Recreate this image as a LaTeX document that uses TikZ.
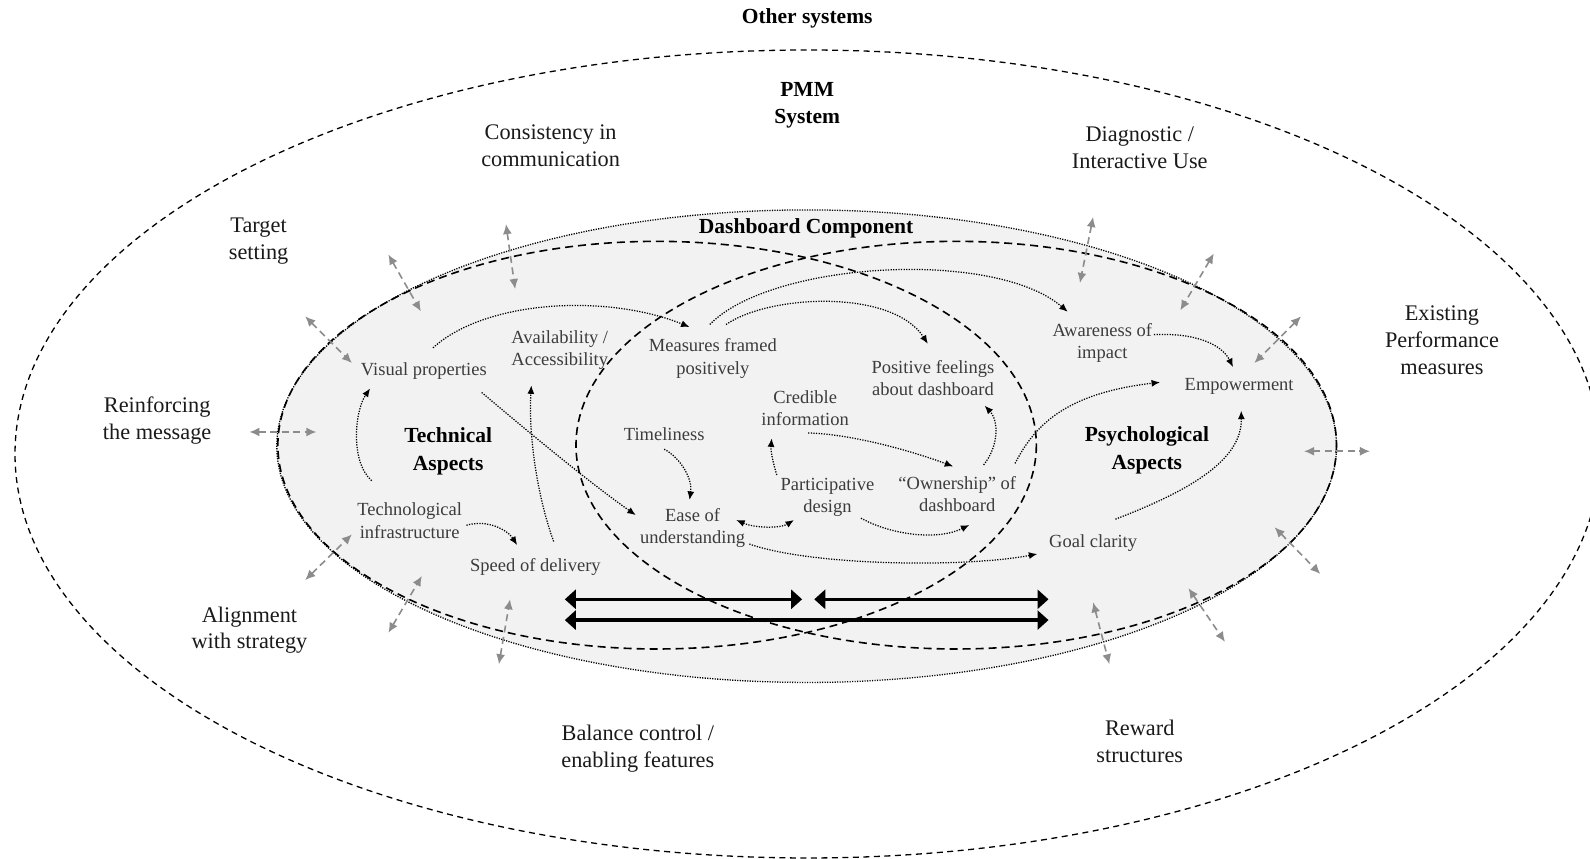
\documentclass[tikz,border=0pt]{standalone}
\usepackage{fontspec}
\setmainfont{Liberation Serif}
\usetikzlibrary{arrows.meta}
\definecolor{panel}{HTML}{F2F2F2}
\definecolor{linkgray}{HTML}{8C8C8C}
\definecolor{itemtext}{HTML}{3C3C3C}
\definecolor{outertext}{HTML}{1A1A1A}

\begin{document}
\begin{tikzpicture}[x=1.01403pt,y=-1.01403pt,
  outerlbl/.style={align=center,text=outertext,font=\fontsize{22.3}{26.8}\selectfont,inner sep=0pt},
  headlbl/.style={align=center,text=black,font=\bfseries\fontsize{21.5}{27.4}\selectfont,inner sep=0pt},
  itemlbl/.style={align=center,text=itemtext,font=\fontsize{18.5}{22.3}\selectfont,inner sep=0pt},
  flowarrow/.style={line width=1.25pt,dash pattern=on 1.25pt off 1.35pt,-{Latex[length=8.5pt,width=7pt]}},
  flowboth/.style={line width=1.25pt,dash pattern=on 1.25pt off 1.35pt,{Latex[length=8.5pt,width=7pt]}-{Latex[length=8.5pt,width=7pt]}},
  exarrow/.style={linkgray,line width=1.6pt,dash pattern=on 7pt off 4.5pt,{Latex[length=10pt,width=9pt]}-{Latex[length=10pt,width=9pt]}},
  spanarrow/.style={line width=3.4pt,{Triangle[length=11pt,width=19pt]}-{Triangle[length=11pt,width=19pt]}},
  sysline/.style={line width=1.3pt,dash pattern=on 6pt off 4.5pt},
  aspectline/.style={line width=1.6pt,dash pattern=on 8pt off 5pt},
  compline/.style={line width=1.3pt,dash pattern=on 1.2pt off 1.3pt}
]
% page and clipping frame
\fill[white] (0,0) rectangle (1568,847);
\useasboundingbox (0,0) rectangle (1568,847);
\clip (0,0) rectangle (1568,847);

% dashboard component (shaded) and the two aspect regions
\fill[panel] (795.5,440) ellipse [x radius=522.5, y radius=233];
\draw[compline] (795.5,440) ellipse [x radius=522.5, y radius=233];
\draw[aspectline] (648,439) ellipse [x radius=374, y radius=201];
\draw[aspectline] (943,439) ellipse [x radius=375, y radius=201];

% PMM system boundary
\draw[sysline] (796.4,447.7) ellipse [x radius=781.6, y radius=398.4];

% exchanges across the dashboard boundary
\draw[exarrow] (301,312) -- (347,358);
\draw[exarrow] (383,251) -- (415,307);
\draw[exarrow] (499,221) -- (508,285);
\draw[exarrow] (246,426) -- (312,426);
\draw[exarrow] (301,572) -- (347,527);
\draw[exarrow] (383,624) -- (416,568);
\draw[exarrow] (492,655) -- (503,591);
\draw[exarrow] (1078,214) -- (1065,279);
\draw[exarrow] (1197,250) -- (1164,306);
\draw[exarrow] (1283,312) -- (1237,358);
\draw[exarrow] (1286,445) -- (1351,445);
\draw[exarrow] (1257,520) -- (1302,566);
\draw[exarrow] (1172,580) -- (1208,633);
\draw[exarrow] (1078,594) -- (1094,655);

% interplay between technical and psychological aspects
\draw[spanarrow] (557,591) -- (791,591);
\draw[spanarrow] (803,591) -- (1034,591);
\draw[spanarrow] (557,611.5) -- (1034,611.5);

% system-level labels
\node[headlbl] (other) at (796,18.5) {Other systems};
\node[headlbl] (pmm) at (796,104) {PMM\\System};
\node[headlbl] (dash) at (795,225.5) {Dashboard Component};
\node[headlbl] (techasp) at (442,445) {Technical\\Aspects};
\node[headlbl] (psyasp) at (1131,444) {Psychological\\Aspects};

\node[outerlbl] (consist) at (543,143.5) {Consistency in\\communication};
\node[outerlbl] (diag) at (1124,145.5) {Diagnostic /\\Interactive Use};
\node[outerlbl] (target) at (255,238) {Target\\setting};
\node[outerlbl] (reinf) at (155,415) {Reinforcing\\the message};
\node[outerlbl] (exist) at (1422,335.5) {Existing\\Performance\\measures};
\node[outerlbl] (align) at (246,621.5) {Alignment\\with strategy};
\node[outerlbl] (balance) at (629,738) {Balance control /\\enabling features};
\node[outerlbl] (reward) at (1124,731) {Reward\\structures};

% dashboard features
\node[itemlbl] (vis) at (418,365.5) {Visual properties};
\node[itemlbl] (avail) at (552,345) {Availability /\\Accessibility};
\node[itemlbl] (mfp) at (703,353.5) {Measures framed\\positively};
\node[itemlbl] (pos) at (920,373) {Positive feelings\\about dashboard};
\node[itemlbl] (awa) at (1087,338.5) {Awareness of\\impact};
\node[itemlbl] (emp) at (1222,381.5) {Empowerment};
\node[itemlbl] (cred) at (794,402.5) {Credible\\information};
\node[itemlbl] (time) at (655,428.2) {Timeliness};
\node[itemlbl] (part) at (816,490.5) {Participative\\design};
\node[itemlbl] (own) at (944,487) {``Ownership'' of\\dashboard};
\node[itemlbl] (ease) at (683,520.5) {Ease of\\understanding};
\node[itemlbl] (tech) at (404,513.5) {Technological\\infrastructure};
\node[itemlbl] (speed) at (528,559.5) {Speed of delivery};
\node[itemlbl] (goal) at (1078,535.5) {Goal clarity};

% relationships between features
\draw[flowarrow] ([shift={(9,-22.5)}]vis.center) .. controls (480,295) and (600,290) .. ([shift={(-23,-31)}]mfp.center);
\draw[flowarrow] ([shift={(-3,-33.5)}]mfp.center) .. controls (760,258) and (980,245) .. ([shift={(-34,-31)}]awa.center);
\draw[flowarrow] ([shift={(13,-33.5)}]mfp.center) .. controls (760,290) and (880,285) .. ([shift={(-5,-34)}]pos.center);
\draw[flowarrow] ([shift={(51,-8.5)}]awa.center) .. controls (1180,328) and (1205,340) .. ([shift={(-6,-19.5)}]emp.center);
\draw[flowarrow] ([shift={(57,-30)}]own.center) .. controls (1020,420) and (1050,388) .. ([shift={(-78,-4.5)}]emp.center);
\draw[flowarrow] ([shift={(22,-23.5)}]goal.center) .. controls (1170,485) and (1225,455) .. ([shift={(2,23.5)}]emp.center);
\draw[flowarrow] ([shift={(26,-28.5)}]own.center) .. controls (985,440) and (985,415) .. ([shift={(51,27)}]pos.center);
\draw[flowarrow] ([shift={(3,24.5)}]cred.center) .. controls (840,428) and (900,445) .. ([shift={(-4,-27)}]own.center);
\draw[flowarrow] ([shift={(-50,-22.1)}]part.center) .. controls (762,455) and (760,445) .. ([shift={(-33,29.8)}]cred.center);
\draw[flowarrow] ([shift={(0,14.8)}]time.center) .. controls (672,452) and (683,473) .. ([shift={(-3,-27.5)}]ease.center);
\draw[flowboth] ([shift={(43,-7.7)}]ease.center) .. controls (745,521) and (770,521) .. ([shift={(-33,22.3)}]part.center);
\draw[flowarrow] ([shift={(33,20.5)}]part.center) .. controls (880,528) and (925,533) .. ([shift={(12,30.7)}]own.center);
\draw[flowarrow] ([shift={(56,16)}]ease.center) .. controls (800,558) and (950,560) .. ([shift={(-55,10.8)}]goal.center);
\draw[flowarrow] ([shift={(57,21.5)}]vis.center) .. controls (520,425) and (580,475) .. ([shift={(-56,-12.5)}]ease.center);
\draw[flowarrow] ([shift={(-37.5,-39.5)}]tech.center) .. controls (345,455) and (350,405) .. ([shift={(-53,17.5)}]vis.center);
\draw[flowarrow] ([shift={(18,-25.5)}]speed.center) .. controls (530,490) and (521,430) .. ([shift={(-28,35)}]avail.center);
\draw[flowarrow] ([shift={(56,4.5)}]tech.center) .. controls (480,512) and (500,522) .. ([shift={(-18,-22)}]speed.center);
\end{tikzpicture}
\end{document}
